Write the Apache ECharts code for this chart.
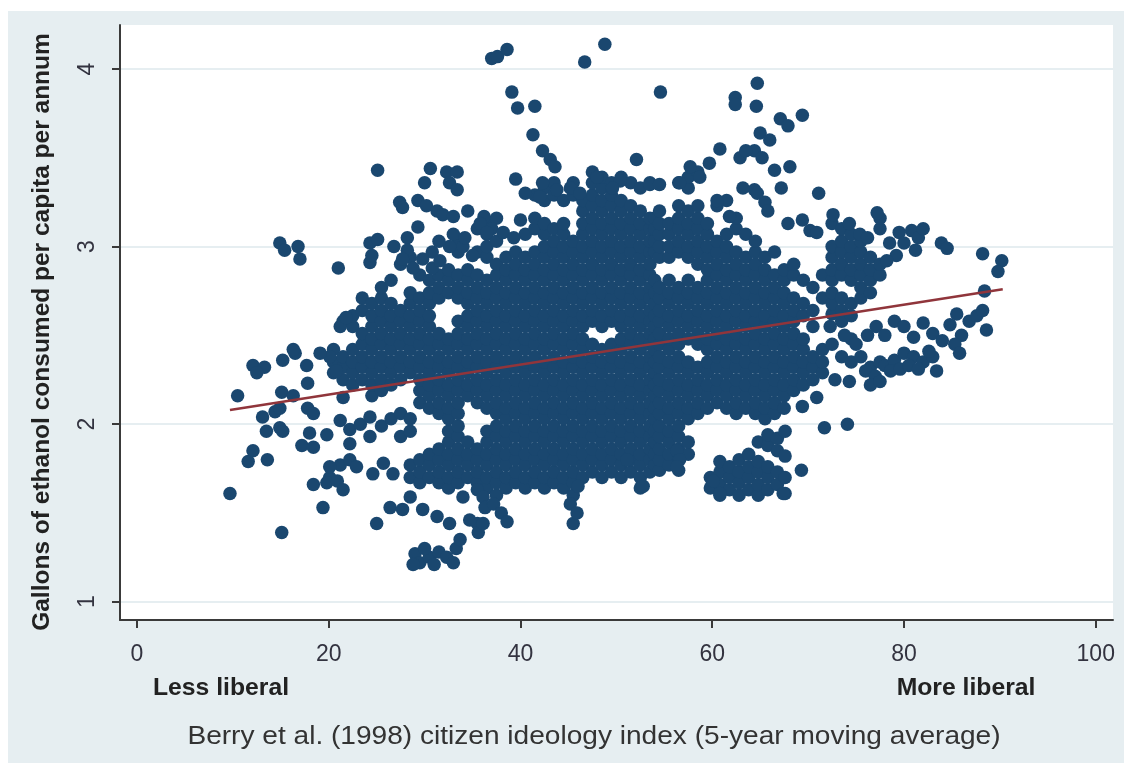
<!DOCTYPE html>
<html><head><meta charset="utf-8">
<script src="https://cdn.jsdelivr.net/npm/echarts@6/dist/echarts.min.js"></script>
<style>
html,body{margin:0;padding:0;background:#ffffff;}
#c{position:absolute;left:8px;top:11px;width:1116px;height:752px;background:#e6eef1;}
</style>
</head><body><div id="c"></div>
<script>
const xTicks = [0, 20, 40, 60, 80, 100];
const yTicks = [1, 2, 3, 4];
const fitX = [9.7, 90.3];
const fitY = [2.08, 2.76];

// dense regions: [x, [y values]]
const denseCols = [
[20.5,[2.29,2.35,2.42]],
[21.5,[2.25,2.32,2.38,2.58]],
[22.5,[2.22,2.29,2.35,2.42,2.55,2.61]],
[23.5,[2.25,2.32,2.38,2.45,2.51,2.64,2.71]],
[24.5,[2.16,2.22,2.29,2.35,2.42,2.48,2.55,2.61,2.68]],
[25.5,[1.99,2.19,2.25,2.32,2.38,2.45,2.51,2.58,2.64,2.71,2.77]],
[26.5,[2.03,2.22,2.29,2.35,2.42,2.48,2.55,2.61,2.68,2.81]],
[27.5,[1.93,2.06,2.25,2.32,2.38,2.45,2.51,2.58,2.64,2.90]],
[28.5,[1.70,1.77,1.96,2.03,2.29,2.35,2.42,2.48,2.55,2.61,2.68,2.74,2.94]],
[29.5,[1.67,1.73,1.80,2.12,2.19,2.25,2.32,2.38,2.45,2.51,2.58,2.64,2.71,2.84]],
[30.5,[1.70,1.77,1.83,2.09,2.16,2.22,2.29,2.35,2.42,2.48,2.55,2.61,2.68,2.74,2.81]],
[31.5,[1.67,1.73,1.80,1.86,2.06,2.12,2.19,2.25,2.32,2.38,2.45,2.51,2.71,2.77,2.84]],
[32.5,[1.64,1.70,1.77,1.83,1.90,1.96,2.03,2.09,2.16,2.22,2.29,2.35,2.42,2.48,2.74,2.81,2.87]],
[33.5,[1.67,1.73,1.80,1.86,1.93,1.99,2.06,2.12,2.19,2.25,2.32,2.38,2.45,2.51,2.58,2.71,2.77,2.84,2.97,3.03]],
[34.5,[1.70,1.77,1.83,1.90,2.16,2.22,2.29,2.35,2.42,2.48,2.55,2.61,2.68,2.74,2.81,2.87]],
[35.5,[1.67,1.73,1.80,1.86,2.12,2.19,2.25,2.32,2.38,2.45,2.51,2.58,2.64,2.71,2.77,2.84,2.97,3.10]],
[36.5,[1.64,1.70,1.77,1.83,1.90,1.96,2.09,2.16,2.22,2.29,2.35,2.42,2.48,2.55,2.61,2.68,2.74,2.81,2.94,3.00,3.07,3.13]],
[37.5,[1.60,1.67,1.73,1.80,1.86,1.93,1.99,2.06,2.12,2.19,2.25,2.32,2.38,2.45,2.51,2.58,2.64,2.71,2.77,2.84,2.90,3.03,3.16]],
[38.5,[1.64,1.70,1.77,1.83,1.90,1.96,2.03,2.09,2.16,2.22,2.29,2.35,2.42,2.48,2.55,2.61,2.68,2.74,2.81,2.87,2.94]],
[39.5,[1.67,1.73,1.80,1.86,1.93,1.99,2.06,2.12,2.19,2.25,2.32,2.38,2.45,2.51,2.58,2.64,2.71,2.77,2.84,2.90,2.97]],
[40.5,[1.64,1.70,1.77,1.83,1.90,1.96,2.03,2.09,2.16,2.22,2.29,2.35,2.42,2.48,2.55,2.61,2.68,2.74,2.81,2.87,2.94,3.07]],
[41.5,[1.67,1.73,1.80,1.86,1.93,1.99,2.06,2.12,2.19,2.25,2.32,2.38,2.45,2.51,2.58,2.64,2.71,2.77,2.84,2.90,2.97,3.10,3.16,3.29]],
[42.5,[1.64,1.70,1.77,1.83,1.90,1.96,2.03,2.09,2.16,2.22,2.29,2.35,2.42,2.48,2.55,2.61,2.68,2.74,2.81,2.87,2.94,3.00,3.07,3.13,3.26,3.33]],
[43.5,[1.67,1.73,1.80,1.86,1.93,1.99,2.06,2.12,2.19,2.25,2.32,2.38,2.45,2.51,2.58,2.64,2.71,2.77,2.84,2.90,2.97,3.03,3.10,3.29,3.36]],
[44.5,[1.64,1.70,1.77,1.83,1.90,1.96,2.03,2.09,2.16,2.22,2.29,2.35,2.42,2.48,2.55,2.61,2.68,2.74,2.81,2.87,2.94,3.00,3.07,3.13,3.26]],
[45.5,[1.60,1.67,1.73,1.80,1.86,1.93,1.99,2.06,2.12,2.19,2.25,2.32,2.38,2.45,2.51,2.58,2.64,2.71,2.77,2.84,2.90,2.97,3.03,3.29,3.36]],
[46.5,[1.70,1.77,1.83,1.90,1.96,2.03,2.09,2.16,2.22,2.29,2.35,2.42,2.48,2.55,2.61,2.68,2.74,2.81,2.87,2.94,3.00,3.07,3.13,3.20,3.26]],
[47.5,[1.73,1.80,1.86,1.93,1.99,2.06,2.12,2.19,2.25,2.32,2.38,2.45,2.58,2.64,2.71,2.77,2.84,2.90,2.97,3.03,3.10,3.16,3.23,3.29,3.36,3.42]],
[48.5,[1.70,1.77,1.83,1.90,1.96,2.03,2.09,2.16,2.22,2.29,2.35,2.42,2.55,2.61,2.68,2.74,2.81,2.87,2.94,3.00,3.07,3.13,3.20,3.26,3.33,3.39]],
[49.5,[1.73,1.80,1.86,1.93,1.99,2.06,2.12,2.19,2.25,2.32,2.38,2.45,2.58,2.64,2.71,2.77,2.84,2.90,2.97,3.03,3.10,3.16,3.23,3.29,3.36]],
[50.5,[1.70,1.77,1.83,1.90,1.96,2.03,2.09,2.16,2.22,2.29,2.35,2.42,2.48,2.55,2.61,2.68,2.74,2.81,2.87,2.94,3.00,3.07,3.13,3.20,3.26,3.39]],
[51.5,[1.73,1.80,1.86,1.93,1.99,2.06,2.12,2.19,2.25,2.32,2.38,2.45,2.51,2.58,2.64,2.71,2.77,2.84,2.90,2.97,3.03,3.10,3.16,3.23,3.36]],
[52.5,[1.64,1.70,1.77,1.83,1.90,1.96,2.03,2.09,2.16,2.22,2.29,2.35,2.42,2.48,2.55,2.61,2.68,2.74,2.81,2.87,2.94,3.00,3.07,3.13,3.20,3.33]],
[53.5,[1.73,1.80,1.86,1.93,1.99,2.06,2.12,2.19,2.25,2.32,2.38,2.45,2.51,2.58,2.64,2.71,2.77,2.84,2.90,2.97,3.03,3.10,3.16,3.36]],
[54.0,[1.77,1.83,1.90,1.96,2.03,2.09,2.16,2.22,2.29,2.35,2.42,2.48,2.55,2.61,2.68,2.74,2.81,2.97,3.03,3.10,3.16]],
[54.5,[1.74,1.80,1.86,1.93,1.99,2.06,2.12,2.19,2.25,2.32,2.38,2.45,2.51,2.58,2.64,2.71,2.77,2.94,3.00,3.07,3.13,3.20]],
[55.5,[1.77,1.83,1.90,1.96,2.03,2.09,2.16,2.22,2.29,2.35,2.42,2.48,2.55,2.61,2.68,2.74,2.81,2.94,3.00,3.07,3.13]],
[56.5,[1.74,1.80,1.86,1.93,1.99,2.06,2.12,2.19,2.25,2.32,2.38,2.45,2.51,2.58,2.64,2.71,2.77,2.97,3.03,3.10,3.16,3.23,3.36]],
[57.5,[1.83,1.90,2.03,2.09,2.16,2.22,2.29,2.35,2.48,2.55,2.61,2.68,2.74,2.81,2.94,3.00,3.07,3.13,3.20,3.33,3.39]],
[58.5,[2.06,2.12,2.19,2.25,2.32,2.45,2.51,2.58,2.64,2.71,2.77,2.90,2.97,3.03,3.10,3.16,3.23,3.42]],
[59.5,[2.09,2.16,2.22,2.29,2.35,2.42,2.48,2.55,2.61,2.68,2.74,2.81,2.87,2.94,3.00,3.07,3.13]],
[60.5,[2.12,2.19,2.25,2.32,2.38,2.45,2.51,2.58,2.64,2.71,2.77,2.84,2.90,2.97,3.03,3.23]],
[61.5,[2.09,2.16,2.22,2.29,2.35,2.42,2.48,2.55,2.61,2.68,2.74,2.81,2.87,2.94,3.00,3.07,3.26]],
[62.5,[2.06,2.12,2.19,2.25,2.32,2.38,2.45,2.51,2.58,2.64,2.71,2.77,2.84,2.90,2.97,3.10,3.16]],
[63.5,[2.09,2.16,2.22,2.29,2.35,2.42,2.48,2.55,2.61,2.68,2.74,2.81,2.87,2.94,3.07]],
[64.5,[2.06,2.12,2.19,2.25,2.32,2.38,2.45,2.51,2.58,2.64,2.71,2.77,2.84,2.90,2.97,3.03]],
[65.5,[2.03,2.09,2.16,2.22,2.29,2.35,2.42,2.48,2.55,2.61,2.68,2.74,2.81,2.87,2.94]],
[66.5,[2.06,2.12,2.19,2.25,2.32,2.38,2.45,2.51,2.58,2.64,2.71,2.77,2.84,2.97]],
[67.5,[2.09,2.16,2.22,2.29,2.35,2.42,2.48,2.55,2.61,2.68,2.74,2.81,2.87]],
[68.5,[2.19,2.25,2.32,2.38,2.45,2.51,2.58,2.64,2.71,2.84,2.90]],
[69.5,[2.22,2.29,2.35,2.42,2.48,2.61,2.68,2.81]],
[70.5,[2.25,2.32,2.38,2.55,2.64,2.77]],
[71.5,[2.29,2.35,2.42,2.71,2.84]],
[72.5,[2.45,2.62,2.68,2.74,2.81,2.87,2.94,3.00,3.13]],
[73.5,[2.38,2.58,2.64,2.71,2.84,2.90,2.97,3.03,3.10]],
[74.5,[2.35,2.48,2.61,2.68,2.81,2.87,2.94,3.00,3.07]],
[75.5,[2.38,2.71,2.77,2.84,2.90,2.97,3.03]],
[76.5,[2.32,2.74,2.81,2.87,2.94]],
[77.5,[2.35,2.84,2.90,3.10,3.16]],
// lower right cluster
[59.8,[1.64,1.70]],
[60.8,[1.60,1.66,1.73,1.79]],
[61.8,[1.63,1.70,1.76]],
[62.8,[1.60,1.67,1.73,1.80]],
[63.8,[1.63,1.70,1.76,1.83]],
[64.8,[1.60,1.66,1.73,1.79,1.90]],
[65.8,[1.63,1.70,1.76,1.88,1.94]],
[66.8,[1.66,1.73,1.85,1.92]],
[67.6,[1.61,1.70,1.82,1.96]]
];

// scattered points
const sparseTop = [
[37.0,4.06],[37.6,4.07],[38.6,4.11],[46.7,4.04],[48.8,4.14],[39.1,3.87],[39.7,3.78],[41.5,3.79],
[41.3,3.63],[42.3,3.54],[43.1,3.49],[43.6,3.45],[54.6,3.87],[62.4,3.84],[62.4,3.80],[64.7,3.92],
[64.6,3.79],[67.1,3.72],[67.9,3.68],[69.4,3.74],[65.0,3.64],[66.0,3.60],[64.4,3.54],[65.2,3.50],
[66.5,3.43],[68.1,3.45],[67.2,3.33],[71.1,3.30],[64.4,3.32],[65.5,3.25],[65.8,3.20],[67.9,3.13],
[69.4,3.15],[70.2,3.09],[70.9,3.08],[60.8,3.55],[59.7,3.47],[52.1,3.49],[56.6,3.36],[57.7,3.45],
[58.7,3.39],[60.5,3.26],[61.8,3.17],[62.9,3.50],[63.5,3.54],[63.2,3.33],[64.7,3.30],[42.3,3.36],
[43.8,3.32],[45.2,3.33],[46.2,3.30],[42.0,3.28],[48.0,3.39],[50.4,3.37],[49.6,3.33],[53.5,3.35],
[54.5,3.35],[39.5,3.38],[40.5,3.30],[36.2,3.17],[37.0,3.10],[38.2,3.08],[39.3,3.05],[40.0,3.15]
];
const sparseLeft = [
[30.6,3.44],[30.0,3.36],[32.3,3.42],[33.4,3.42],[32.6,3.36],[33.4,3.32],[29.3,3.26],[30.2,3.23],
[31.3,3.20],[31.9,3.18],[33.0,3.17],[34.5,3.20],[29.3,3.11],[28.2,3.05],[28.2,2.98],[27.7,2.93],
[33.0,3.07],[32.6,3.00],[35.8,3.13],[36.5,3.08],[27.4,3.25],[27.7,3.22],[25.1,3.43],[24.3,2.91],
[24.3,3.02],[25.1,3.04],[21.0,2.88],[14.9,3.02],[15.4,2.98],[16.8,3.00],[17.0,2.93],[30.8,2.97],
[31.5,3.03],[34.0,3.00],[35.0,2.95],[24.5,2.95],[26.8,3.00],[29.8,2.93],[28.8,2.88],[30.8,2.88],
[31.6,2.92],[34.2,3.05],
[9.7,1.61],[10.5,2.16],[11.6,1.79],[12.1,1.85],[13.6,1.80],[15.1,1.39],[13.1,2.04],[13.5,1.96],
[14.4,2.07],[14.9,1.98],[15.2,1.96],[14.9,2.09],[12.1,2.33],[13.3,2.32],[12.5,2.29],[15.2,2.36],
[16.5,2.40],[15.1,2.18],[16.3,2.16],[17.8,2.23],[17.8,2.09],[18.4,2.06],[19.8,1.94],[17.2,1.88],
[18.4,1.87],[18.4,1.66],[20.1,1.70],[21.2,1.77],[19.4,1.53],[19.8,1.67],[17.7,2.33],[20.1,2.38],
[20.8,2.30],[21.5,2.15],[21.2,2.02],[22.2,1.97],[23.3,2.00],[24.3,2.04],[24.3,1.93],[22.2,1.89],
[18.0,1.95],[20.1,1.76],[20.9,1.68],[22.2,1.80],[22.9,1.76],[21.5,1.63],[24.6,1.72],[25.7,1.78],
[26.7,1.72],[26.4,1.53],[25.0,1.44],[16.3,2.42],[19.1,2.40],[21.2,2.55],[21.8,2.60]
];
const sparseLow = [
[28.5,1.59],[27.7,1.52],[29.8,1.52],[31.3,1.48],[32.6,1.44],[34.0,1.59],[35.5,1.63],[36.1,1.59],
[29.0,1.27],[29.5,1.22],[30.5,1.25],[31.5,1.28],[32.3,1.25],[33.0,1.22],[33.3,1.30],[31.0,1.21],
[28.8,1.21],[30.0,1.30],[35.5,1.44],[35.6,1.39],[33.7,1.35],[34.7,1.46],[36.1,1.44],[36.3,1.53],
[37.2,1.55],[38.0,1.50],[38.6,1.45],[45.5,1.44],[45.2,1.55],[45.9,1.50],[46.0,1.65],[52.8,1.65],
[51.1,1.80],[56.3,1.85],[56.6,1.80],[56.3,1.76],[60.1,1.68],[60.8,1.61],[69.3,1.74],[67.4,1.61],
[69.4,2.10],[70.9,2.15],[71.7,1.98],[74.1,2.00],[72.8,2.25],[74.3,2.24]
];
const sparseRight = [
[72.6,3.18],[74.3,3.13],[75.4,3.07],[76.2,3.05],[77.2,3.19],[78.5,3.02],[79.2,2.95],[78.2,2.92],
[79.5,3.08],[80.0,3.02],[80.8,3.09],[81.5,3.05],[82.0,3.10],[81.2,2.98],[83.9,3.02],[84.5,2.99],
[76.0,2.30],[77.0,2.27],[78.0,2.33],[79.0,2.36],[80.0,2.40],[81.0,2.38],[82.0,2.35],[83.0,2.38],
[76.5,2.22],[77.5,2.24],[78.6,2.30],[79.6,2.31],[80.5,2.33],[81.5,2.31],[82.6,2.41],[83.4,2.30],
[75.0,2.45],[76.2,2.50],[77.1,2.55],[78.0,2.50],[79.0,2.58],[80.0,2.55],[81.0,2.49],[82.0,2.57],
[83.0,2.51],[84.0,2.47],[84.8,2.56],[85.5,2.62],[86.0,2.50],[86.8,2.58],[87.6,2.61],[88.2,2.64],
[88.6,2.53],[85.3,2.45],[85.8,2.40],[73.8,2.50],[72.3,2.55],
[88.2,2.96],[90.2,2.92],[89.8,2.86],[88.4,2.75]
];

const points = [];
denseCols.forEach(function (c) { c[1].forEach(function (y) { points.push([c[0], y]); }); });
[sparseTop, sparseLeft, sparseLow, sparseRight].forEach(function (arr) {
  arr.forEach(function (p) { points.push(p); });
});
const fitLine = fitX.map(function (x, i) { return [x, fitY[i]]; });

const FONT = 'Liberation Sans, Arial, Helvetica, sans-serif';
const AX = '#3a3a3a';
const chart = echarts.init(document.getElementById('c'), null, { renderer: 'canvas' });
chart.setOption({
  animation: false,
  backgroundColor: 'transparent',
  grid: { left: 112, right: 11, top: 14, bottom: 143, show: true, backgroundColor: '#ffffff', borderWidth: 0 },
  xAxis: {
    type: 'value', min: -1.77, max: 101.8,
    axisLine: { show: true, onZero: false, lineStyle: { color: AX, width: 2 } },
    axisTick: { show: true, customValues: xTicks, length: 8, lineStyle: { color: AX, width: 2 } },
    axisLabel: { customValues: xTicks, fontSize: 23, color: '#333340', margin: 23, fontFamily: FONT },
    splitLine: { show: false }
  },
  yAxis: {
    type: 'value', min: 0.897, max: 4.248,
    axisLine: { show: true, onZero: false, lineStyle: { color: AX, width: 2 } },
    axisTick: { show: true, customValues: yTicks, length: 8, lineStyle: { color: AX, width: 2 } },
    axisLabel: { customValues: yTicks, rotate: 90, fontSize: 23, color: '#333340', margin: 21, fontFamily: FONT },
    splitLine: { show: true, lineStyle: { color: '#e6eef1', width: 2 } }
  },
  graphic: [
    { type: 'text', x: 213, y: 677, scaleX: 1.03, style: { text: 'Less liberal', fill: '#222', font: 'bold 24px ' + FONT, textAlign: 'center', textVerticalAlign: 'middle' } },
    { type: 'text', x: 958, y: 677, scaleX: 1.03, style: { text: 'More liberal', fill: '#222', font: 'bold 24px ' + FONT, textAlign: 'center', textVerticalAlign: 'middle' } },
    { type: 'text', x: 586, y: 726, scaleX: 1.08, style: { text: 'Berry et al. (1998) citizen ideology index (5-year moving average)', fill: '#333', font: '26px ' + FONT, textAlign: 'center', textVerticalAlign: 'middle' } },
    { type: 'text', x: 34, y: 321, rotation: Math.PI / 2, style: { text: 'Gallons of ethanol consumed per capita per annum', fill: '#222', font: 'bold 24.5px ' + FONT, textAlign: 'center', textVerticalAlign: 'middle' } }
  ],
  series: [
    { type: 'scatter', data: points, symbol: 'circle', symbolSize: 13.5, itemStyle: { color: '#1a476f', opacity: 1 }, z: 2, large: false },
    { type: 'line', data: fitLine, symbol: 'none', showSymbol: false, lineStyle: { color: '#90353b', width: 2.5 }, z: 3 }
  ]
});
</script>
</body></html>
